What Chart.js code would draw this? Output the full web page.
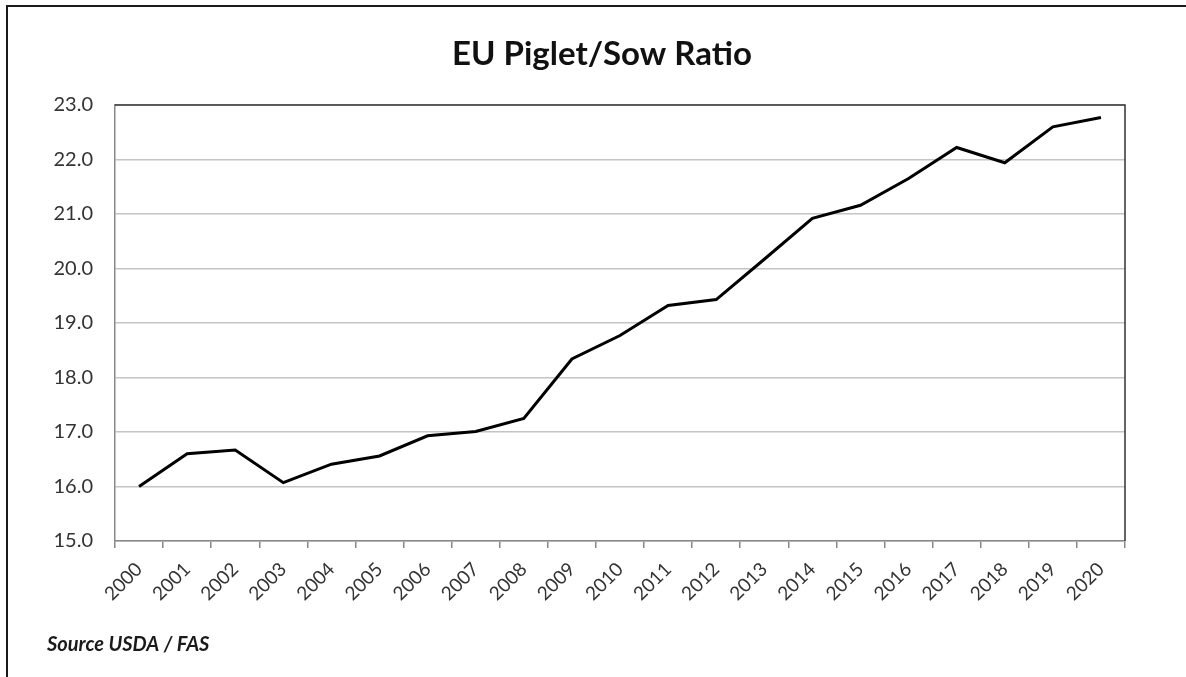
<!DOCTYPE html>
<html>
<head>
<meta charset="utf-8">
<script src="https://cdn.jsdelivr.net/npm/chart.js@4"></script>
<style>
body { margin:0; background:#fff; }
#wrap { position:relative; width:1186px; height:677px; overflow:hidden; }
#frame { position:absolute; left:6px; top:5px; width:1300px; height:800px;
  border-left:2px solid #1a1a1a; border-top:2px solid #1a1a1a; pointer-events:none; }
</style>
</head>
<body>
<div id="wrap">
<canvas id="ratioChart" width="1186" height="677"></canvas>
<div id="frame"></div>
</div>
<script>

/* DATA */

const years = ["2000","2001","2002","2003","2004","2005","2006","2007","2008","2009","2010",
"2011","2012","2013","2014","2015","2016","2017","2018","2019","2020"];

const pigletsPerSow = [16.0, 16.6, 16.67, 16.07, 16.41, 16.56, 16.93, 17.01, 17.25, 18.34, 18.77,
19.32, 19.43, 20.17, 20.92, 21.16, 21.65, 22.22, 21.94, 22.6, 22.77];

const yTicks = [15, 16, 17, 18, 19, 20, 21, 22, 23];

const titleText = "EU Piglet/Sow Ratio";
const sourceText = "Source USDA / FAS";


/* title, top + right frame of the plot area, and the source note */

const extras = {
  id:"extras",
  afterDraw(chart){
    const c = chart.ctx;
    const a = chart.chartArea;
    c.save();
    c.strokeStyle = "#333";
    c.lineWidth = 1.5;
    c.beginPath();
    c.moveTo(a.left, a.top);
    c.lineTo(a.right, a.top);
    c.lineTo(a.right, a.bottom);
    c.stroke();

    c.fillStyle = "#111";
    c.textBaseline = "middle";
    c.textAlign = "center";
    c.font = "bold 33px Lato";
    c.fillText(titleText, 602, 54);

    c.fillStyle = "#1a1a1a";
    c.textAlign = "left";
    c.font = "italic bold 20px Lato";
    c.fillText(sourceText, 47, 645);
    c.restore();
  }
};

new Chart(document.getElementById("ratioChart"),{

type:"line",

data:{
labels:years,
datasets:[{
data:pigletsPerSow,
borderColor:"#000",
borderWidth:3,
pointRadius:0,
tension:0,
fill:false
}]
},

options:{
responsive:false,
animation:false,
layout:{ padding:{ left:0, right:61, top:105, bottom:46 } },
plugins:{
legend:{ display:false },
tooltip:{ enabled:false },
title:{ display:false }
},
scales:{
x:{
offset:true,
afterFit(s){ s.height = 90; },
grid:{ display:true, offset:true, drawOnChartArea:false, drawTicks:true, tickLength:7, color:"#888", lineWidth:1.5 },
border:{ color:"#888", width:1.5 },
ticks:{ maxRotation:45, minRotation:45, color:"#333", font:{ family:"Lato", size:19 }, padding:10, autoSkip:false }
},
y:{
min:15,
max:23,
afterFit(s){ s.width = 115; },
afterBuildTicks(s){ s.ticks = yTicks.map(v => ({ value:v })); },
grid:{ color:"#c4c4c4", lineWidth:1.5, drawTicks:false },
border:{ color:"#888", width:1.5 },
ticks:{ color:"#333", font:{ family:"Lato", size:20 }, padding:22, callback:v => v.toFixed(1) }
}
}
},

plugins:[extras]

});

</script>
</body>
</html>
